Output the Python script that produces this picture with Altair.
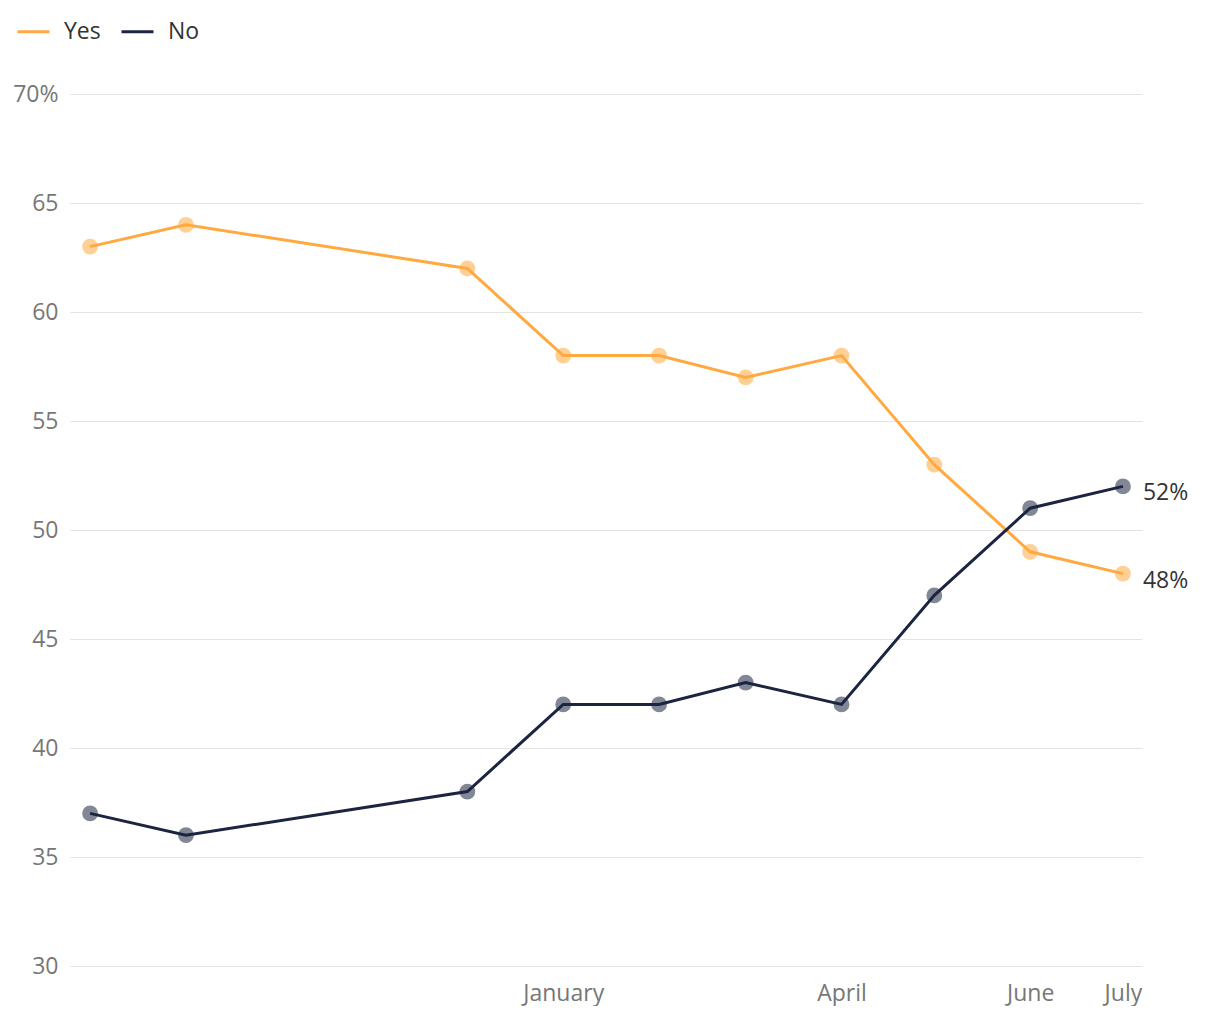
import altair as alt
import pandas as pd

dates = ["2018-08-01", "2018-09-01", "2018-12-01", "2019-01-01", "2019-02-01",
         "2019-03-01", "2019-04-01", "2019-05-01", "2019-06-01", "2019-07-01"]
yes_vals = [63, 64, 62, 58, 58, 57, 58, 53, 49, 48]
no_vals = [37, 36, 38, 42, 42, 43, 42, 47, 51, 52]
series_names = ["Yes", "No"]
series_colors = ["#FFA940", "#1B2440"]
tick_dates = ["2019-01-01", "2019-04-01", "2019-06-01", "2019-07-01"]
y_ticks = [30, 35, 40, 45, 50, 55, 60, 65, 70]

rows = []
for d, y, n in zip(dates, yes_vals, no_vals):
    rows.append({"date": d, "series": "Yes", "value": y})
    rows.append({"date": d, "series": "No", "value": n})
df = pd.DataFrame(rows)

last = df[df["date"] == dates[-1]].copy()
last["label"] = last["value"].astype(int).astype(str) + "%"

def ms(s):
    return int(pd.Timestamp(s, tz="UTC").timestamp() * 1000)

x_domain = [ms("2018-07-25T12:00:00"), ms("2019-07-07T04:00:00")]
x_values = [ms(t) for t in tick_dates]

FONT = "Open Sans"

x_enc = alt.X(
    "date:T",
    scale=alt.Scale(type="utc", domain=x_domain, nice=False),
    axis=alt.Axis(
        values=x_values,
        labelExpr="utcFormat(datum.value, '%B')",
        grid=False, domain=False, ticks=False,
        labelFontSize=23, labelColor="#777777", labelFont=FONT,
        labelPadding=16, title=None,
    ),
)
y_enc = alt.Y(
    "value:Q",
    scale=alt.Scale(domain=[30, 70], nice=False, zero=False),
    axis=alt.Axis(
        values=y_ticks,
        labelExpr="datum.value == 70 ? '70%' : datum.label",
        grid=True, gridColor="#e3e3e3", gridWidth=1.2,
        domain=False, ticks=False,
        labelFontSize=23, labelColor="#777777", labelFont=FONT,
        labelPadding=12, title=None,
    ),
)
color_scale = alt.Scale(domain=series_names, range=series_colors)

legend = alt.Legend(
    title=None, orient="none", direction="horizontal",
    legendX=-54, legendY=-80, padding=0,
    symbolType="stroke", symbolSize=1024, symbolStrokeWidth=3,
    symbolOpacity=1,
    labelFontSize=23, labelColor="#333333", labelFont=FONT,
    columnPadding=14, labelOffset=13,
)

points = alt.Chart(df).mark_circle(size=250, opacity=0.55).encode(
    x=x_enc, y=y_enc,
    color=alt.Color("series:N", scale=color_scale, legend=legend),
)

lines = alt.Chart(df).mark_line(strokeWidth=3).encode(
    x=x_enc, y=y_enc,
    color=alt.Color("series:N", scale=color_scale, legend=legend),
    detail="series:N",
)

labels = alt.Chart(last).mark_text(
    align="left", baseline="middle", dx=20, dy=7,
    fontSize=23, color="#333333", font=FONT,
).encode(x=x_enc, y=y_enc, text="label:N")

chart = alt.layer(points, lines, labels).properties(
    width=1072, height=872,
    autosize=alt.AutoSizeParams(type="none"),
    padding={"left": 62, "top": 86, "right": 60, "bottom": 40},
).configure(font=FONT).configure_view(stroke="transparent", strokeWidth=0)

chart.save("out.html", embed_options={"renderer": "svg", "actions": False})
